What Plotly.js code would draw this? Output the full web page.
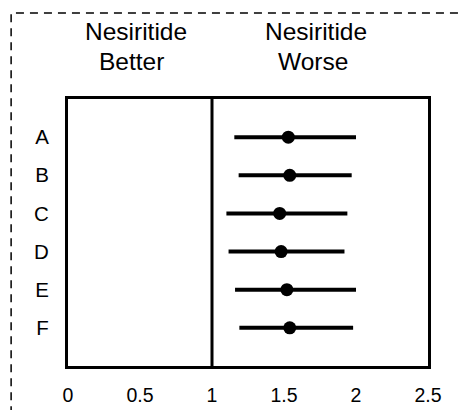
<!DOCTYPE html>
<html>
<head>
<meta charset="utf-8">
<script src="https://cdn.plot.ly/plotly-3.0.1.min.js"></script>
<style>html,body{margin:0;padding:0;background:#fff;}#chart{width:460px;height:410px;}</style>
</head>
<body>
<div id="chart"></div>
<script>
const categories = ['A', 'B', 'C', 'D', 'E', 'F'];
const estimates = [1.53, 1.54, 1.47, 1.48, 1.52, 1.54];
const lowerCI = [1.155, 1.185, 1.10, 1.115, 1.16, 1.19];
const upperCI = [2.00, 1.97, 1.94, 1.92, 2.00, 1.98];
const xTicks = [0, 0.5, 1, 1.5, 2, 2.5];
const xTickLabels = ['0', '0.5', '1', '1.5', '2', '2.5'];
const referenceValue = 1;
const headerLine1 = ['Nesiritide', 'Nesiritide'];
const headerLine2 = ['Better', 'Worse'];
const headerLine1X = [0.470, 1.722];
const headerLine2X = [0.442, 1.698];

const font = 'Liberation Sans, Arial, sans-serif';

const trace = {
  type: 'scatter',
  mode: 'markers',
  x: estimates,
  y: categories,
  marker: {color: '#000', size: 13},
  error_x: {
    type: 'data',
    symmetric: false,
    array: upperCI.map((u, i) => u - estimates[i]),
    arrayminus: lowerCI.map((l, i) => estimates[i] - l),
    color: '#000',
    thickness: 4,
    width: 0
  },
  hoverinfo: 'none',
  showlegend: false
};

function header(text, x, y) {
  return {
    text: text,
    xref: 'x', yref: 'paper',
    x: x, y: y,
    xanchor: 'center', yanchor: 'middle',
    showarrow: false,
    font: {size: 24.5, family: font, color: '#000'}
  };
}

const layout = {
  width: 460,
  height: 410,
  margin: {l: 68, r: 32, t: 99, b: 44},
  paper_bgcolor: '#fff',
  plot_bgcolor: '#fff',
  font: {family: font, color: '#000'},
  xaxis: {
    range: [0, 2.5],
    tickvals: xTicks,
    ticktext: xTickLabels,
    showgrid: false,
    zeroline: false,
    showline: true,
    linecolor: '#000',
    linewidth: 3,
    mirror: true,
    ticks: 'outside',
    ticklen: 10,
    tickcolor: 'rgba(0,0,0,0)',
    tickfont: {size: 19.5, family: font, color: '#000'}
  },
  yaxis: {
    type: 'category',
    categoryorder: 'array',
    categoryarray: categories,
    range: [6, -1],
    showgrid: false,
    zeroline: false,
    showline: true,
    linecolor: '#000',
    linewidth: 3,
    mirror: true,
    ticks: 'outside',
    ticklen: 12,
    tickcolor: 'rgba(0,0,0,0)',
    tickfont: {size: 20.5, family: font, color: '#000'}
  },
  shapes: [
    {type: 'line', xref: 'x', yref: 'paper', x0: referenceValue, x1: referenceValue, y0: 0, y1: 1,
     line: {color: '#000', width: 3}},
    {type: 'rect', xref: 'paper', yref: 'paper', x0: -0.158, x1: 1.3, y0: -0.3, y1: 1.322,
     line: {color: '#000', width: 1.5, dash: '8px,6px'}, fillcolor: 'rgba(0,0,0,0)', layer: 'below'}
  ],
  annotations: headerLine1.map((t, i) => header(t, headerLine1X[i], 1.253))
    .concat(headerLine2.map((t, i) => header(t, headerLine2X[i], 1.140)))
};

Plotly.newPlot('chart', [trace], layout, {displayModeBar: false, staticPlot: true});
</script>
</body>
</html>
